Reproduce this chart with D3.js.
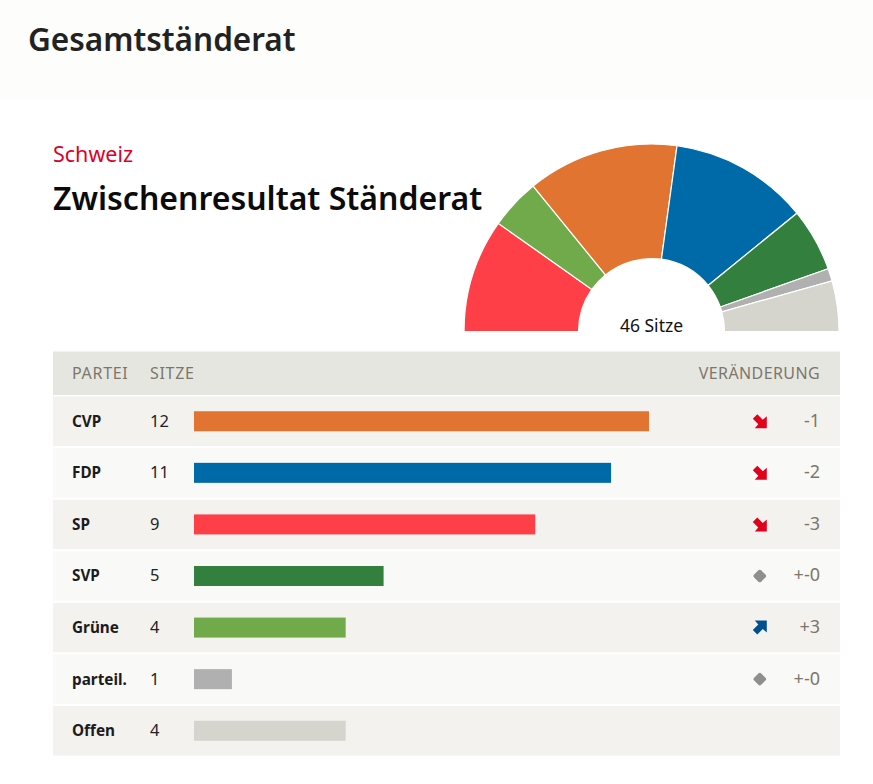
<!DOCTYPE html>
<html><head><meta charset="utf-8">
<script src="https://cdn.jsdelivr.net/npm/d3@7/dist/d3.min.js"></script>
<style>html,body{margin:0;padding:0;background:#fff}svg{display:block}text{font-family:"Noto Sans",sans-serif}</style>
</head><body><svg id="c" width="873" height="784"></svg>
<script>
const parties=["CVP","FDP","SP","SVP","Grüne","parteil.","Offen"];
const seats=[12,11,9,5,4,1,4];
const changes=[-1,-2,-3,0,3,0,null];
const changeLabels=["-1","-2","-3","+-0","+3","+-0",""];
const colors=["#e07430","#006aa8","#ff3f48","#337f3e","#70aa4b","#b0b0b0","#d5d5cd"];
const arcOrder=["SP","Grüne","CVP","FDP","SVP","parteil.","Offen"];
const headers=["PARTEI","SITZE","VERÄNDERUNG"];

const svg=d3.select("#c");
svg.append("rect").attr("width",873).attr("height",100).attr("fill","#fdfdfb");
svg.append("text").attr("x",28).attr("y",51).attr("font-size",31.5).attr("font-weight",600).attr("fill","#222").text("Gesamtständerat");
svg.append("text").attr("x",53).attr("y",162).attr("font-size",21.5).attr("fill","#dc0028").text("Schweiz");
svg.append("text").attr("x",53).attr("y",210).attr("font-size",32).attr("font-weight",600).attr("fill","#0b0b0b").text("Zwischenresultat Ständerat");

// semicircle
const pieData=d3.pie().sort(null).startAngle(-Math.PI/2).endAngle(Math.PI/2)
  .value(p=>seats[parties.indexOf(p)])(arcOrder);
const arc=d3.arc().innerRadius(73).outerRadius(187.5);
const g=svg.append("g").attr("transform","translate(651.5,331.5)");
g.selectAll("path").data(pieData).join("path").attr("d",arc)
  .attr("fill",d=>colors[parties.indexOf(d.data)]).attr("stroke","#fff").attr("stroke-width",1.2);
svg.append("text").attr("x",651.5).attr("y",332).attr("text-anchor","middle").attr("font-size",17.5).attr("fill","#111").text("46 Sitze");

// table
const L=53,R=840;
svg.append("rect").attr("x",L).attr("y",351.5).attr("width",R-L).attr("height",43.5).attr("fill","#e6e6e1");
const hdr=(t,x,a)=>svg.append("text").attr("x",x).attr("y",379).attr("text-anchor",a).attr("font-size",16).attr("letter-spacing",0.7).attr("fill","#7b776c").text(t);
hdr(headers[0],72,"start");hdr(headers[1],150,"start");
svg.append("text").attr("x",820).attr("y",379).attr("text-anchor","end").attr("font-size",16).attr("letter-spacing",0.4).attr("fill","#7b776c").text(headers[2]);

const y=d3.scaleBand().domain(parties).range([396.5,755.5]).paddingInner(0.04).paddingOuter(0);
const x=d3.scaleLinear().domain([0,12]).range([194,649]);
const row=svg.selectAll("g.row").data(parties).join("g").attr("class","row")
  .attr("transform",p=>`translate(0,${y(p)})`);
const h=y.bandwidth();
row.append("rect").attr("x",L).attr("width",R-L).attr("height",h).attr("fill",(p,i)=>i%2?"#f9f9f7":"#f3f2ef");
row.append("text").attr("x",72).attr("y",h/2+5.5).attr("font-size",15.3).attr("font-weight",700).attr("fill","#1c1c1c").text(p=>p);
row.append("text").attr("x",150).attr("y",h/2+5.5).attr("font-size",16.5).attr("fill","#222").text((p,i)=>seats[i]);
row.append("rect").attr("x",x(0)).attr("y",h/2-10).attr("height",20).attr("width",(p,i)=>x(seats[i])-x(0)).attr("fill",(p,i)=>colors[i]);
row.append("text").attr("x",820).attr("y",h/2+5.5).attr("text-anchor","end").attr("font-size",18).attr("fill","#7b776c").text((p,i)=>changeLabels[i]);
const arrow="M-7,-2.5 L-2.5,-7 L3,-1.5 L7,-5 L7,7 L-5,7 L-1.5,3 Z";
row.each(function(p,i){
  const c=changes[i]; if(c===null) return;
  const s=d3.select(this).append("g").attr("transform",`translate(759.8,${h/2})`);
  if(c===0) s.append("rect").attr("x",-5).attr("y",-5).attr("width",10).attr("height",10).attr("rx",2).attr("transform","rotate(45)").attr("fill","#8f8f8f");
  else if(c<0) s.append("path").attr("d",arrow).attr("fill","#e2001a");
  else s.append("path").attr("d",arrow).attr("transform","rotate(-90)").attr("fill","#004f8f");
});
</script></body></html>
